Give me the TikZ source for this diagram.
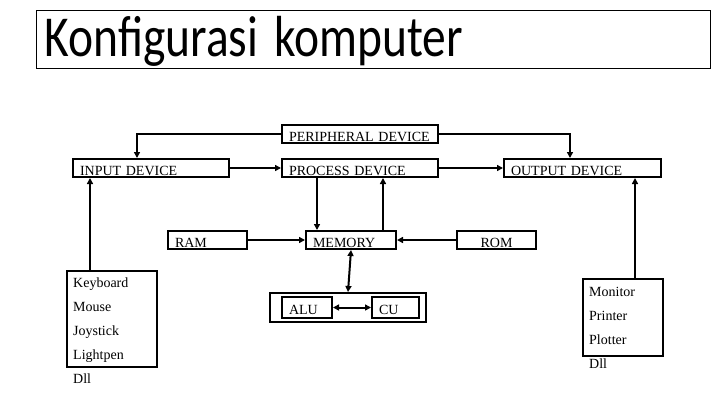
\documentclass[tikz,border=0pt]{standalone}
\usepackage{fontspec}
\setmainfont{Liberation Serif}
\newfontfamily\titlefont{Carlito}
\usetikzlibrary{arrows.meta}

\begin{document}
\begin{tikzpicture}[x=1pt,y=-1pt,
  box/.style={draw,line width=2pt,anchor=north west,inner xsep=7pt,inner ysep=0pt,text height=16pt,text depth=2pt,font=\fontsize{14}{16}\selectfont,align=left,text width=#1},
  frame/.style={draw,line width=2pt,anchor=north west,inner sep=0pt},
  item/.style={anchor=base west,inner sep=0pt,font=\fontsize{14}{16}\selectfont},
  arr/.style={line width=2pt,-{Triangle[length=6pt,width=6pt]}},
  darr/.style={line width=2pt,{Triangle[length=6pt,width=6pt]}-{Triangle[length=6pt,width=6pt]}},
]
\useasboundingbox (0,0) rectangle (720,405);
% title
\node[draw,line width=1pt,anchor=north west,minimum height=58pt,inner xsep=8pt,text width=658pt,text height=43pt,text depth=9pt,inner ysep=3pt,align=left,font=\titlefont\fontsize{47.5}{50}\selectfont] (title) at (36,10) {\scalebox{1}[1.22]{Konfigurasi komputer}};
% device boxes
\node[box=142pt] (peri) at (281,124) {PERIPHERAL DEVICE};
\node[box=142pt] (input) at (72,158) {INPUT DEVICE};
\node[box=142pt] (process) at (281,158) {PROCESS DEVICE};
\node[box=143pt] (output) at (503,158) {OUTPUT DEVICE};
% memory row
\node[box=65pt] (ram) at (167,230) {RAM};
\node[box=76pt] (memory) at (305,230) {MEMORY};
\node[box=65pt,align=center] (rom) at (456,230) {ROM};
% alu + cu
\node[frame,minimum width=156pt,minimum height=29pt] (core) at (269,292) {};
\node[box=36pt,text height=17pt,text depth=4pt] (alu) at (281,296) {ALU};
\node[box=33pt,text height=17pt,text depth=4pt] (cu) at (371,296) {CU};
% input / output lists
\node[frame,minimum width=90pt,minimum height=96pt] (inbox) at (66,270) {};
\foreach \t [count=\i] in {Keyboard,Mouse,Joystick,Lightpen,Dll}
  \node[item] (in\i) at (73,263+24*\i) {\t};
\node[frame,minimum width=80pt,minimum height=77pt] (outbox) at (582,278) {};
\foreach \t [count=\i] in {Monitor,Printer,Plotter,Dll}
  \node[item] (out\i) at (589,272+24*\i) {\t};
% connectors
\coordinate (p1) at ([xshift=65pt]input.north west);
\coordinate (p2) at ([xshift=67pt]output.north west);
\draw[arr] (peri.west) -| (p1);
\draw[arr] (peri.east) -| (p2);
\draw[arr] (input.east) -- (process.west);
\draw[arr] (process.east) -- (output.west);
\coordinate (m1) at ([xshift=12pt]memory.north west);
\coordinate (m2) at ([xshift=78pt]memory.north west);
\draw[arr] (process.south -| m1) -- (m1);
\draw[arr] (m2) -- (m2 |- process.south);
\draw[arr] (ram.east) -- (memory.west);
\draw[arr] (rom.west) -- (memory.east);
\draw[darr] (memory.south) -- (core.north);
\draw[darr] (alu.east) -- (cu.west);
\coordinate (i1) at ([xshift=24pt]inbox.north west);
\coordinate (o1) at ([xshift=53pt]outbox.north west);
\draw[arr] (i1) -- (i1 |- input.south);
\draw[arr] (o1) -- (o1 |- output.south);
\end{tikzpicture}
\end{document}
